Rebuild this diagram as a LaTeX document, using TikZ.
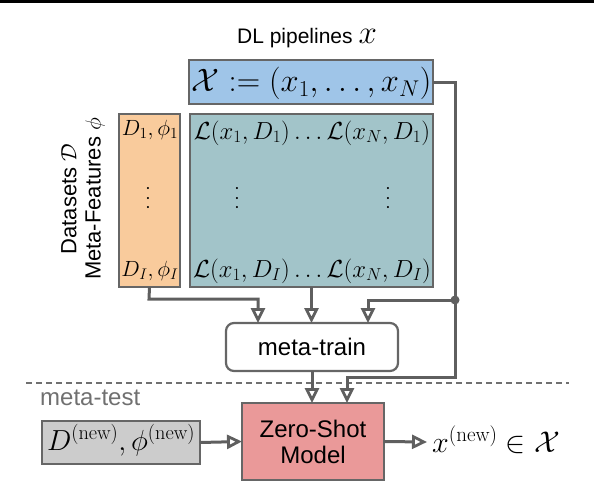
\RequirePackage{fix-cm}
\documentclass[tikz,border=0pt]{standalone}
\usepackage{fontspec}
\newfontfamily\arial{Liberation Sans}
\usetikzlibrary{arrows.meta}
\definecolor{lineg}{HTML}{5F5F5F}
\definecolor{boxg}{HTML}{666666}
\definecolor{cblue}{HTML}{9FC5E8}
\definecolor{cteal}{HTML}{A2C4C9}
\definecolor{corange}{HTML}{F9CB9C}
\definecolor{cpink}{HTML}{EA9999}
\definecolor{cgray}{HTML}{CCCCCC}
\definecolor{tgray}{HTML}{707070}
\tikzset{
  x=1pt, y=-1pt,
  box/.style={draw=boxg, line width=2.2pt, inner sep=0pt, outer sep=0pt},
  conn/.style={draw=lineg, line width=3pt},
  arr/.style={conn, -{Triangle[length=15pt,width=14pt,fill=white,line width=2.8pt]}},
  sans/.style={font=\arial\fontsize{24}{28}\selectfont},
  vdot/.style={rotate=90, inner sep=0pt, font=\fontsize{22}{24}\selectfont},
}
\begin{document}
\begin{tikzpicture}
\useasboundingbox (0,0) rectangle (594,482);
\fill[black] (0,0) rectangle (594,3);
% title
\node[anchor=base, font=\arial\fontsize{21}{24}\selectfont, inner sep=0pt] (title) at (307,43) {DL pipelines \fontsize{33}{35}\selectfont$x$};
% boxes
\node[box, fill=cblue, minimum width=244, minimum height=44] (blue) at (311,82) {};
\node[font=\fontsize{32.5}{34}\selectfont, inner sep=0pt] (bluet) at (311.5,83) {$\mathcal{X} := (x_1,\ldots,x_N)$};
\node[box, fill=corange, minimum width=61, minimum height=173] (orange) at (149.5,200.5) {};
\node[box, fill=cteal, minimum width=243, minimum height=173] (teal) at (311.5,200.5) {};
\node[font=\fontsize{22}{24}\selectfont, inner sep=0pt] (o1) at (150,130) {$D_1,\phi_1$};
\node[vdot] (o2) at (148,198) {$\ldots$};
\node[font=\fontsize{22}{24}\selectfont, inner sep=0pt] (o3) at (150,271) {$D_I,\phi_I$};
\node[font=\fontsize{24.7}{26}\selectfont, inner sep=0pt] (t1) at (312,133) {$\mathcal{L}(x_1,D_1)\ldots\mathcal{L}(x_N,D_1)$};
\node[vdot] (t2) at (237,198) {$\ldots$};
\node[vdot] (t3) at (388,198) {$\ldots$};
\node[font=\fontsize{24.7}{26}\selectfont, inner sep=0pt] (t4) at (312,271) {$\mathcal{L}(x_1,D_I)\ldots\mathcal{L}(x_N,D_I)$};
% rotated labels
\node[rotate=90, font=\arial\fontsize{22}{24}\selectfont, inner sep=0pt] (lab1) at (69,199) {Datasets $\mathcal{D}$};
\node[rotate=90, font=\arial\fontsize{22}{24}\selectfont, inner sep=0pt] (lab2) at (95,199) {Meta-Features $\phi$};
% meta-train
\node[box, fill=white, rounded corners=8pt, minimum width=172, minimum height=48, sans] (mt) at (312,347) {meta-train};
% dashed line
\coordinate (dl) at (26,383);
\coordinate (dr) at (569,383);
\draw[tgray, line width=1.3pt, dash pattern=on 6pt off 4pt] (dl) -- (dr);
\node[anchor=base west, sans, text=tgray, inner sep=0pt] (mtest) at (40,405) {meta-test};
% bottom boxes
\node[box, fill=cgray, minimum width=158, minimum height=43] (dnew) at (121,442.5) {};
\node[font=\fontsize{29}{31}\selectfont, inner sep=0pt] (dnewt) at (121,440) {$D^{(\mathrm{new})},\phi^{(\mathrm{new})}$};
\node[box, fill=cpink, minimum width=142, minimum height=77, sans, align=center] (zs) at (313,441.5) {Zero-Shot\\[-2pt]Model};
\node[anchor=west, font=\fontsize{30}{32}\selectfont, inner sep=0pt] (out) at (432,440) {$x^{(\mathrm{new})}\in\mathcal{X}$};
% connectors
\coordinate (dot) at (455,300);
\coordinate (c1) at (455,82);
\coordinate (c2) at (455,377);
\coordinate (c3) at (347,377);
\coordinate (c4) at (368,300);
\coordinate (c5) at (149,299);
\coordinate (c6) at (258,299);
\coordinate (c7) at (427,442);
\draw[conn] (blue.east) -- (c1) -- (dot);
\fill[lineg] (dot) circle (4.5pt);
\draw[arr] (dot) -- (c2) -- (c3) -- (c3 |- zs.north);
\draw[arr] (dot) -- (c4) -- (c4 |- mt.north);
\draw[arr] (orange.south) -- (c5) -- (c6) -- (c6 |- mt.north);
\draw[arr] (teal.south) -- (teal.south |- mt.north);
\draw[arr] (mt.south) -- (mt.south |- zs.north);
\draw[arr] (dnew.east) -- (zs.west);
\draw[arr] (zs.east) -- (c7);
\end{tikzpicture}
\end{document}
